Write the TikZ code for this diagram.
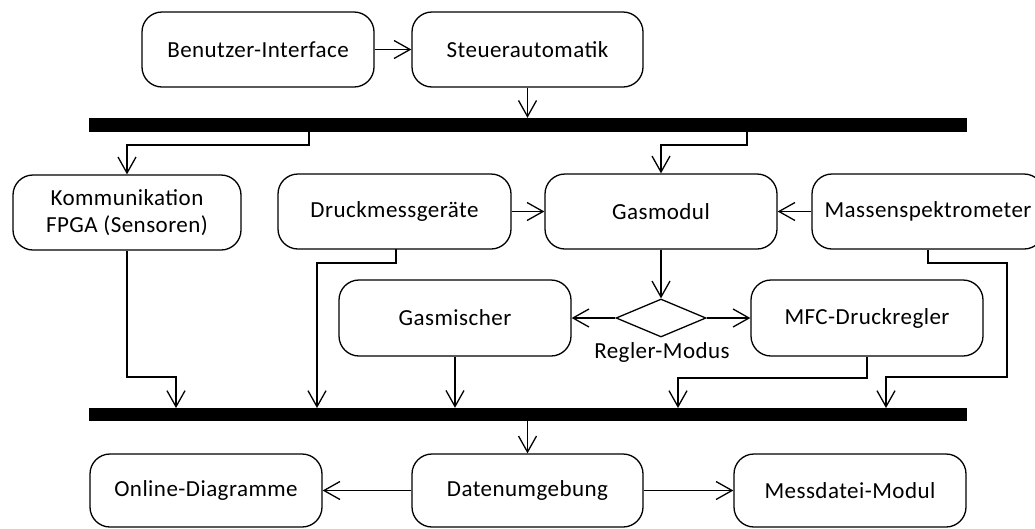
\documentclass[tikz,border=0pt]{standalone}
\usepackage{fontspec}
\setmainfont{Carlito}[LetterSpace=2]
\usetikzlibrary{arrows.meta,shapes.geometric}

\begin{document}
\begin{tikzpicture}[x=1pt,y=-1pt,
  every node/.style={font=\fontsize{23}{27}\selectfont},
  box/.style={draw,line width=1.3pt,rounded corners=20pt,minimum width=232pt,
              minimum height=75pt,inner sep=0pt,align=center},
  bar/.style={fill=black,draw=none,minimum width=878pt,minimum height=14pt,inner sep=0pt},
  choice/.style={draw,line width=1.3pt,diamond,aspect=2.4,minimum width=90pt,
                 minimum height=38pt,inner sep=0pt},
  flow/.style={line width=1.3pt,-{Straight Barb[length=16pt,width=18pt,line width=1.3pt]}}
]
\useasboundingbox (0,0) rectangle (1035,528);

% control layer
\node[box] (bi) at (258,49.5) {Benutzer-Interface};
\node[box,minimum width=231pt] (sa) at (527.5,49.5) {Steuerautomatik};

% upper bus
\node[bar] (topbar) at (528,125) {};

% module row
\node[box,minimum width=228pt] (ko) at (127,212.5) {Kommunikation\\FPGA (Sensoren)};
\node[box,minimum width=233pt] (dm) at (394.5,211.5) {Druckmessger\"ate};
\node[box] (gm) at (661,211.5) {Gasmodul};
\node[box] (ms) at (928,211.5) {Massenspektrometer};

% controller choice
\node[choice] (dia) at (661,318) {};
\node (diatext) at (662,352) {Regler-Modus};
\node[box,minimum height=76pt] (gmi) at (455,318) {Gasmischer};
\node[box,minimum height=76pt] (mfc) at (867,318) {MFC-Druckregler};

% lower bus
\node[bar,minimum height=13pt] (botbar) at (528,414.5) {};

% data layer
\node[box,minimum height=73pt] (od) at (206,490.5) {Online-Diagramme};
\node[box,minimum height=73pt,minimum width=231pt] (du) at (527.5,490.5) {Datenumgebung};
\node[box,minimum height=73pt] (md) at (850,490.5) {Messdatei-Modul};

% helper points on the buses
\coordinate (t1) at (309,132);
\coordinate (t2) at (747,132);
\coordinate (b1) at (176,408);
\coordinate (b2) at (317,408);
\coordinate (b3) at (678,408);
\coordinate (b4) at (886,408);

% connectors
\draw[flow] (bi.east) -- (sa.west);
\draw[flow] (sa.south) -- (sa.south |- topbar.north);
\draw[flow] (t1) -- (309,145) -| (ko.north);
\draw[flow] (t2) -- (747,145) -| (gm.north);
\draw[flow] (dm.east) -- (gm.west);
\draw[flow] (ms.west) -- (gm.east);
\draw[flow] (gm.south) -- (dia.north);
\draw[flow] (dia.west) -- (gmi.east);
\draw[flow] (dia.east) -- (mfc.west);

\draw[flow] (ko.south) -- (127,377) -| (b1);
\draw[flow] (396,249) -- (396,263) -| (b2);
\draw[flow] (gmi.south) -- (gmi.south |- botbar.north);
\draw[flow] (mfc.south) -- (867,378) -| (b3);
\draw[flow] (ms.south) -- (928,263) -- (1007,263) -- (1007,377) -| (b4);

\draw[flow] (du.north |- botbar.south) -- (du.north);
\draw[flow] (du.west) -- (od.east);
\draw[flow] (du.east) -- (md.west);
\end{tikzpicture}
\end{document}
